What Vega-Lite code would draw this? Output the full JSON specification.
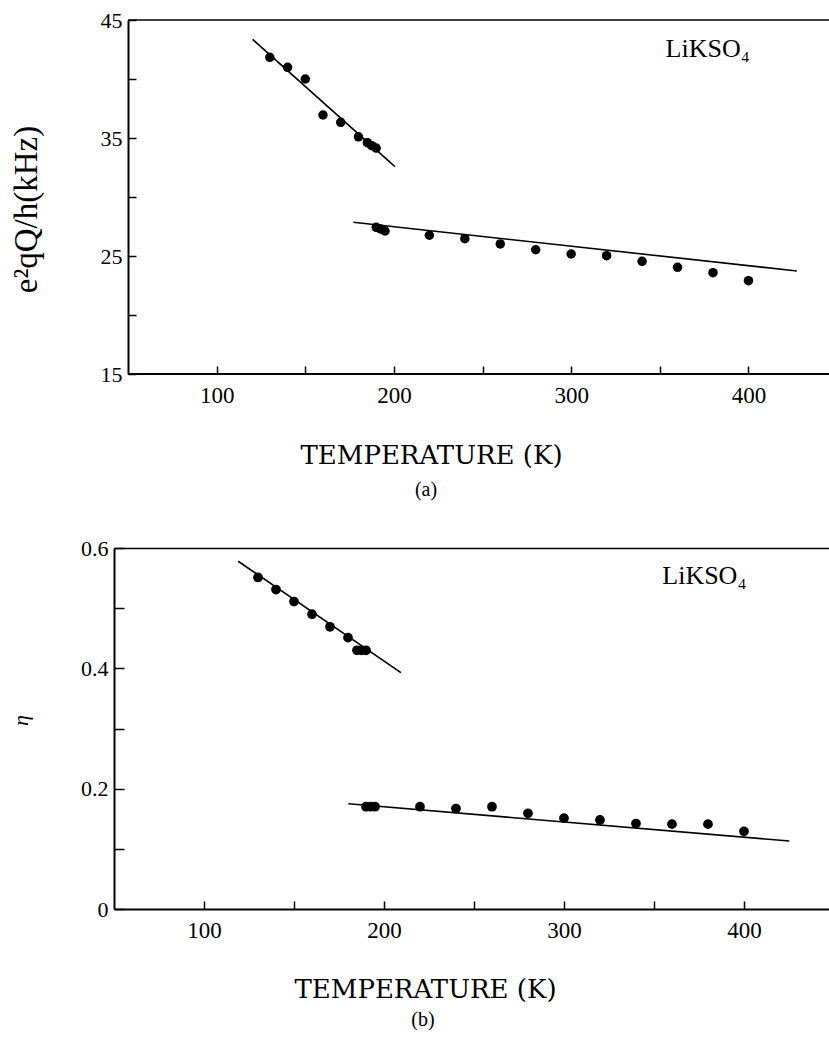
{
  "$schema": "https://vega.github.io/schema/vega-lite/v6.json",
  "padding": {"left": 9, "top": 9, "right": 0, "bottom": 0},
  "background": "white",
  "spacing": 37,
  "config": {
    "font": "Liberation Serif",
    "view": {"stroke": null},
    "axis": {
      "grid": false,
      "domainColor": "black",
      "domainWidth": 2,
      "tickColor": "black",
      "tickWidth": 1.5,
      "labelColor": "black",
      "titleColor": "black",
      "labelFont": "Liberation Serif",
      "titleFont": "Liberation Serif",
      "titleFontWeight": "normal",
      "labelFontSize": 22
    },
    "title": {"font": "Liberation Serif", "fontWeight": "normal", "color": "black"}
  },
  "datasets": {
    "a": [
      {"T": 130, "v": 41.84, "kind": "obs", "branch": "low"},
      {"T": 140, "v": 40.99, "kind": "obs", "branch": "low"},
      {"T": 150, "v": 40.0, "kind": "obs", "branch": "low"},
      {"T": 160, "v": 36.95, "kind": "obs", "branch": "low"},
      {"T": 170, "v": 36.33, "kind": "obs", "branch": "low"},
      {"T": 180, "v": 35.1, "kind": "obs", "branch": "low"},
      {"T": 185, "v": 34.6, "kind": "obs", "branch": "low"},
      {"T": 187.5, "v": 34.35, "kind": "obs", "branch": "low"},
      {"T": 190, "v": 34.15, "kind": "obs", "branch": "low"},
      {"T": 190, "v": 27.43, "kind": "obs", "branch": "high"},
      {"T": 192.5, "v": 27.29, "kind": "obs", "branch": "high"},
      {"T": 195, "v": 27.12, "kind": "obs", "branch": "high"},
      {"T": 220, "v": 26.76, "kind": "obs", "branch": "high"},
      {"T": 240, "v": 26.47, "kind": "obs", "branch": "high"},
      {"T": 260, "v": 26.02, "kind": "obs", "branch": "high"},
      {"T": 280, "v": 25.53, "kind": "obs", "branch": "high"},
      {"T": 300, "v": 25.17, "kind": "obs", "branch": "high"},
      {"T": 320, "v": 25.03, "kind": "obs", "branch": "high"},
      {"T": 340, "v": 24.55, "kind": "obs", "branch": "high"},
      {"T": 360, "v": 24.04, "kind": "obs", "branch": "high"},
      {"T": 380, "v": 23.59, "kind": "obs", "branch": "high"},
      {"T": 400, "v": 22.91, "kind": "obs", "branch": "high"},
      {"T": 120.3, "v": 43.36, "kind": "fit", "branch": "low"},
      {"T": 200.6, "v": 32.57, "kind": "fit", "branch": "low"},
      {"T": 177.1, "v": 27.86, "kind": "fit", "branch": "high"},
      {"T": 427.3, "v": 23.73, "kind": "fit", "branch": "high"}
    ],
    "b": [
      {"T": 130, "v": 0.551, "kind": "obs", "branch": "low"},
      {"T": 140, "v": 0.531, "kind": "obs", "branch": "low"},
      {"T": 150, "v": 0.511, "kind": "obs", "branch": "low"},
      {"T": 160, "v": 0.49, "kind": "obs", "branch": "low"},
      {"T": 170, "v": 0.469, "kind": "obs", "branch": "low"},
      {"T": 180, "v": 0.451, "kind": "obs", "branch": "low"},
      {"T": 185, "v": 0.43, "kind": "obs", "branch": "low"},
      {"T": 187.5, "v": 0.43, "kind": "obs", "branch": "low"},
      {"T": 190, "v": 0.43, "kind": "obs", "branch": "low"},
      {"T": 190, "v": 0.17, "kind": "obs", "branch": "high"},
      {"T": 192.5, "v": 0.17, "kind": "obs", "branch": "high"},
      {"T": 195, "v": 0.17, "kind": "obs", "branch": "high"},
      {"T": 220, "v": 0.17, "kind": "obs", "branch": "high"},
      {"T": 240, "v": 0.167, "kind": "obs", "branch": "high"},
      {"T": 260, "v": 0.17, "kind": "obs", "branch": "high"},
      {"T": 280, "v": 0.159, "kind": "obs", "branch": "high"},
      {"T": 300, "v": 0.151, "kind": "obs", "branch": "high"},
      {"T": 320, "v": 0.148, "kind": "obs", "branch": "high"},
      {"T": 340, "v": 0.142, "kind": "obs", "branch": "high"},
      {"T": 360, "v": 0.141, "kind": "obs", "branch": "high"},
      {"T": 380, "v": 0.141, "kind": "obs", "branch": "high"},
      {"T": 400, "v": 0.129, "kind": "obs", "branch": "high"},
      {"T": 119, "v": 0.578, "kind": "fit", "branch": "low"},
      {"T": 209.4, "v": 0.393, "kind": "fit", "branch": "low"},
      {"T": 180.2, "v": 0.175, "kind": "fit", "branch": "high"},
      {"T": 425.2, "v": 0.113, "kind": "fit", "branch": "high"}
    ]
  },
  "vconcat": [
    {
      "width": 716,
      "height": 354,
      "title": {"text": "(a)", "orient": "bottom", "frame": "group", "anchor": "middle", "dx": -46, "fontSize": 20, "offset": 12},
      "resolve": {"axis": {"x": "independent"}},
      "layer": [
        {
          "data": {"values": [{}]},
          "mark": {"type": "rule", "color": "black", "strokeWidth": 2},
          "encoding": {
            "x": {"datum": 50, "type": "quantitative", "scale": {"domain": [42.1, 446], "nice": false, "zero": false}, "axis": null},
            "x2": {"datum": 446},
            "y": {"datum": 15, "type": "quantitative", "scale": {"domain": [15, 45], "nice": false, "zero": false}}
          }
        },
        {
          "data": {"values": [{}]},
          "mark": {"type": "rule", "color": "black", "strokeWidth": 1.5},
          "encoding": {
            "x": {"datum": 50, "type": "quantitative", "scale": {"domain": [42.1, 446], "nice": false, "zero": false}, "axis": null},
            "x2": {"datum": 446},
            "y": {"datum": 45, "type": "quantitative", "scale": {"domain": [15, 45], "nice": false, "zero": false}}
          }
        },
        {
          "data": {"name": "a"},
          "transform": [{"filter": "datum.kind == 'fit'"}],
          "mark": {"type": "line", "color": "black", "strokeWidth": 1.6},
          "encoding": {
            "x": {"field": "T", "type": "quantitative", "scale": {"domain": [42.1, 446], "nice": false, "zero": false}, "axis": null},
            "y": {"field": "v", "type": "quantitative", "scale": {"domain": [15, 45], "nice": false, "zero": false}},
            "detail": {"field": "branch"}
          }
        },
        {
          "data": {"name": "a"},
          "transform": [{"filter": "datum.kind == 'obs'"}],
          "mark": {"type": "point", "filled": true, "shape": "circle", "size": 90, "color": "black", "opacity": 1},
          "encoding": {
            "x": {"field": "T", "type": "quantitative", "scale": {"domain": [42.1, 446], "nice": false, "zero": false},
                  "axis": {"orient": "bottom", "domain": false, "values": [100, 150, 200, 250, 300, 350, 400],
                           "labelExpr": "datum.value % 100 === 0 ? datum.label : ''",
                           "tickSize": -8, "labelPadding": 18, "labelFontSize": 23,
                           "title": "TEMPERATURE (K)", "titleFont": "DejaVu Serif", "titleFontSize": 26, "titleX": 317, "titleY": 89, "titleBaseline": "alphabetic"}},
            "y": {"field": "v", "type": "quantitative", "scale": {"domain": [15, 45], "nice": false, "zero": false},
                  "axis": {"values": [15, 20, 25, 30, 35, 40, 45], "offset": -14,
                           "labelExpr": "datum.value % 10 === 5 ? datum.label : ''",
                           "tickSize": -8, "labelPadding": 14,
                           "title": "e²qQ/h(kHz)", "titleFontSize": 33, "titleX": -85, "titleY": 189, "titleBaseline": "bottom"}}
          }
        },
        {
          "data": {"values": [{"label": "LiKSO₄"}]},
          "mark": {"type": "text", "fontSize": 26, "align": "center", "baseline": "alphabetic", "color": "black"},
          "encoding": {
            "x": {"datum": 377, "type": "quantitative", "scale": {"domain": [42.1, 446], "nice": false, "zero": false}, "axis": null},
            "y": {"datum": 41.86, "type": "quantitative", "scale": {"domain": [15, 45], "nice": false, "zero": false}},
            "text": {"field": "label"}
          }
        }
      ]
    },
    {
      "width": 716,
      "height": 361,
      "title": {"text": "(b)", "orient": "bottom", "frame": "group", "anchor": "middle", "dx": -49, "fontSize": 20, "offset": 8},
      "resolve": {"axis": {"x": "independent"}},
      "layer": [
        {
          "data": {"name": "b"},
          "transform": [{"filter": "datum.kind == 'fit'"}],
          "mark": {"type": "line", "color": "black", "strokeWidth": 1.6},
          "encoding": {
            "x": {"field": "T", "type": "quantitative", "scale": {"domain": [50, 447.8], "nice": false, "zero": false},
                  "axis": {"orient": "top", "ticks": false, "labels": false, "title": null, "domainWidth": 1.5}},
            "y": {"field": "v", "type": "quantitative", "scale": {"domain": [0, 0.6], "nice": false}},
            "detail": {"field": "branch"}
          }
        },
        {
          "data": {"name": "b"},
          "transform": [{"filter": "datum.kind == 'obs'"}],
          "mark": {"type": "point", "filled": true, "shape": "circle", "size": 95, "color": "black", "opacity": 1},
          "encoding": {
            "x": {"field": "T", "type": "quantitative", "scale": {"domain": [50, 447.8], "nice": false, "zero": false},
                  "axis": {"orient": "bottom", "values": [100, 150, 200, 250, 300, 350, 400],
                           "labelExpr": "datum.value % 100 === 0 ? datum.label : ''",
                           "tickSize": -8, "labelPadding": 18, "labelFontSize": 23,
                           "title": "TEMPERATURE (K)", "titleFont": "DejaVu Serif", "titleFontSize": 26, "titleX": 311, "titleY": 88, "titleBaseline": "alphabetic"}},
            "y": {"field": "v", "type": "quantitative", "scale": {"domain": [0, 0.6], "nice": false},
                  "axis": {"values": [0, 0.1, 0.2, 0.3, 0.4, 0.5, 0.6], "format": "~g",
                           "labelExpr": "datum.value === 0 || datum.value === 0.2 || datum.value === 0.4 || datum.value === 0.6 ? datum.label : ''",
                           "tickSize": -10, "labelPadding": 16,
                           "title": "η", "titleFontSize": 22, "titleFontStyle": "italic", "titleX": -82, "titleY": 172, "titleBaseline": "bottom"}}
          }
        },
        {
          "data": {"values": [{"label": "LiKSO₄"}]},
          "mark": {"type": "text", "fontSize": 26, "align": "center", "baseline": "alphabetic", "color": "black"},
          "encoding": {
            "x": {"datum": 378, "type": "quantitative", "scale": {"domain": [50, 447.8], "nice": false, "zero": false}, "axis": null},
            "y": {"datum": 0.54, "type": "quantitative", "scale": {"domain": [0, 0.6], "nice": false}},
            "text": {"field": "label"}
          }
        }
      ]
    }
  ]
}
